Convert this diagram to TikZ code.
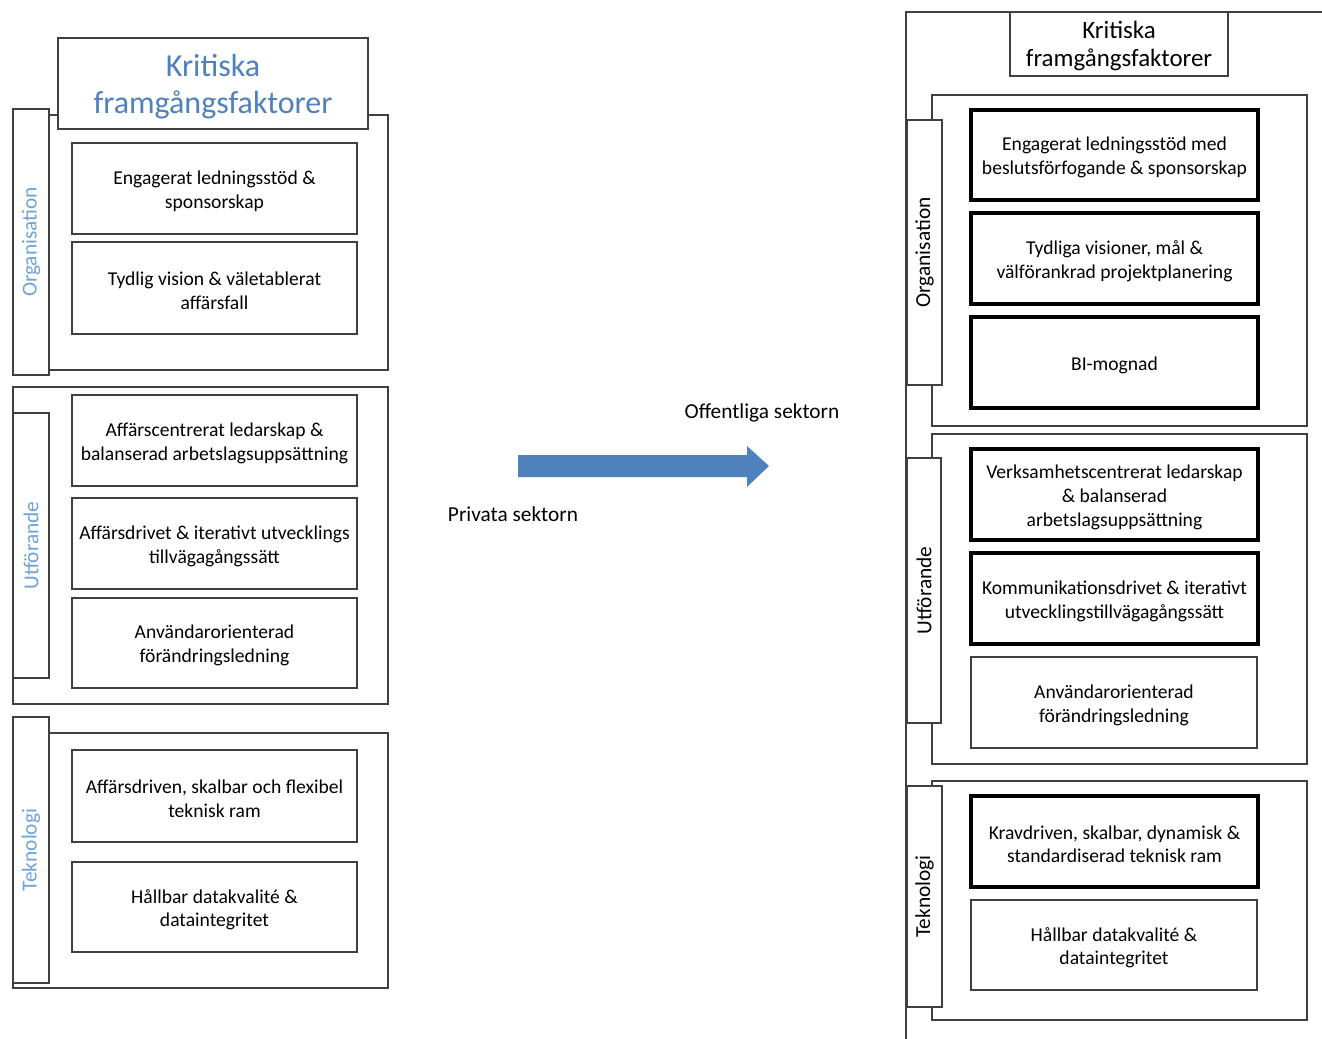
\documentclass[tikz,border=0pt]{standalone}
\usepackage{fontspec}
\setmainfont{Carlito}
\usetikzlibrary{fit}
\definecolor{lineg}{HTML}{404040}
\definecolor{titleblue}{HTML}{4F81BD}
\definecolor{lblblue}{HTML}{6FA3DA}
\definecolor{arrowblue}{HTML}{4F81BD}
\newcommand{\boxfont}{\fontsize{14.7pt}{17.8pt}\selectfont}
\begin{document}
\begin{tikzpicture}[x=0.75pt,y=-0.75pt,
  frame/.style={draw=lineg, line width=1pt, fill=white, inner sep=0pt},
  ibox/.style={draw=lineg, line width=1pt, fill=white, inner sep=0pt},
  tbox/.style={draw=black, line width=3pt, fill=white, inner sep=0pt},
  btext/.style={align=center, font=\boxfont, inner sep=0pt, yshift=-2pt},
  vlabl/.style={rotate=90, font=\fontsize{16pt}{18pt}\selectfont, text=lblblue, inner sep=0pt},
  vlabr/.style={rotate=90, font=\fontsize{16pt}{18pt}\selectfont, text=black, inner sep=0pt},
  sector/.style={font=\fontsize{16pt}{19pt}\selectfont, inner sep=0pt}]
\useasboundingbox (0,0) rectangle (1322,1039);

% ---------------- LEFT: Organisation ----------------
\node[frame, fit={(13,115)(388,370)}] (lorg) {};
\node[frame, fit={(13,109)(49,375)}] (lorgbar) {};
\node[vlabl] (lorglab) at (lorgbar.center) {Organisation};
\node[frame, fit={(58,38)(368,129)}] (ltitle) {};
\node[align=center, text=titleblue, inner sep=0pt, yshift=-2.2pt,
      font=\fontsize{24pt}{28pt}\selectfont] (ltitlet) at (ltitle.center) {Kritiska\\framgångsfaktorer};
\node[ibox, fit={(72,143)(357,234)}] (l1) {};
\node[btext] (l1t) at (l1.center) {Engagerat ledningsstöd \&\\sponsorskap};
\node[ibox, fit={(72,242)(357,334)}] (l2) {};
\node[btext] (l2t) at (l2.center) {Tydlig vision \& väletablerat\\affärsfall};

% ---------------- LEFT: Utförande ----------------
\node[frame, fit={(13,387)(388,704)}] (lutf) {};
\node[frame, fit={(13,413)(49,678)}] (lutfbar) {};
\node[vlabl] (lutflab) at (lutfbar.center) {Utförande};
\node[ibox, fit={(72,395)(357,486)}] (l3) {};
\node[btext] (l3t) at (l3.center) {Affärscentrerat ledarskap \&\\balanserad arbetslagsuppsättning};
\node[ibox, fit={(72,498)(357,589)}] (l4) {};
\node[btext] (l4t) at (l4.center) {Affärsdrivet \& iterativt utvecklings\\tillvägagångssätt};
\node[ibox, fit={(72,598)(357,688)}] (l5) {};
\node[btext] (l5t) at (l5.center) {Användarorienterad\\förändringsledning};

% ---------------- LEFT: Teknologi ----------------
\node[frame, fit={(13,733)(388,988)}] (ltek) {};
\node[frame, fit={(13,717)(49,983)}] (ltekbar) {};
\node[vlabl] (lteklab) at (ltekbar.center) {Teknologi};
\node[ibox, fit={(72,750)(357,842)}] (l6) {};
\node[btext] (l6t) at (l6.center) {Affärsdriven, skalbar och flexibel\\teknisk ram};
\node[ibox, fit={(72,862)(357,952)}] (l7) {};
\node[btext] (l7t) at (l7.center) {Hållbar datakvalité \&\\dataintegritet};

% ---------------- MIDDLE: arrow ----------------
\node[sector] (off) at (762,413) {Offentliga sektorn};
\node[sector] (priv) at (513,514) {Privata sektorn};
\fill[arrowblue] (518,455) -- (747,455) -- (747,446) -- (769,466) -- (747,487) -- (747,477) -- (518,477) -- cycle;

% ---------------- RIGHT ----------------
\coordinate (rfa) at (906,1039);
\coordinate (rfb) at (906,12);
\coordinate (rfc) at (1322,12);
\draw[lineg, line width=1pt] (rfa) -- (rfb) -- (rfc);
\node[frame, fit={(1010,12)(1228,76)}] (rtitle) {};
\node[align=center, text=black, inner sep=0pt, yshift=-1.5pt,
      font=\fontsize{18.7pt}{21pt}\selectfont] (rtitlet) at (rtitle.center) {Kritiska\\framgångsfaktorer};

% Organisation
\node[frame, fit={(932,95)(1307,426)}] (rorg) {};
\node[frame, fit={(907,120)(942,385)}] (rorgbar) {};
\node[vlabr] (rorglab) at (rorgbar.center) {Organisation};
\node[tbox, fit={(971,110)(1258,200)}] (r1) {};
\node[btext] (r1t) at (r1.center) {Engagerat ledningsstöd med\\beslutsförfogande \& sponsorskap};
\node[tbox, fit={(971,213)(1258,304)}] (r2) {};
\node[btext] (r2t) at (r2.center) {Tydliga visioner, mål \&\\välförankrad projektplanering};
\node[tbox, fit={(971,317)(1258,408)}] (r3) {};
\node[btext] (r3t) at (r3.center) {BI-mognad};

% Utförande
\node[frame, fit={(932,434)(1307,764)}] (rutf) {};
\node[frame, fit={(907,458)(941,723)}] (rutfbar) {};
\node[vlabr] (rutflab) at (rutfbar.center) {Utförande};
\node[tbox, fit={(971,449)(1258,540)}] (r4) {};
\node[btext] (r4t) at (r4.center) {Verksamhetscentrerat ledarskap\\\& balanserad\\arbetslagsuppsättning};
\node[tbox, fit={(971,553)(1258,644)}] (r5) {};
\node[btext] (r5t) at (r5.center) {Kommunikationsdrivet \& iterativt\\utvecklingstillvägagångssätt};
\node[ibox, fit={(971,657)(1257,748)}] (r6) {};
\node[btext] (r6t) at (r6.center) {Användarorienterad\\förändringsledning};

% Teknologi
\node[frame, fit={(932,781)(1307,1020)}] (rtek) {};
\node[frame, fit={(907,786)(942,1007)}] (rtekbar) {};
\node[vlabr] (rteklab) at (rtekbar.center) {Teknologi};
\node[tbox, fit={(971,796)(1258,887)}] (r7) {};
\node[btext] (r7t) at (r7.center) {Kravdriven, skalbar, dynamisk \&\\standardiserad teknisk ram};
\node[ibox, fit={(971,900)(1257,990)}] (r8) {};
\node[btext] (r8t) at (r8.center) {Hållbar datakvalité \&\\dataintegritet};
\end{tikzpicture}
\end{document}
